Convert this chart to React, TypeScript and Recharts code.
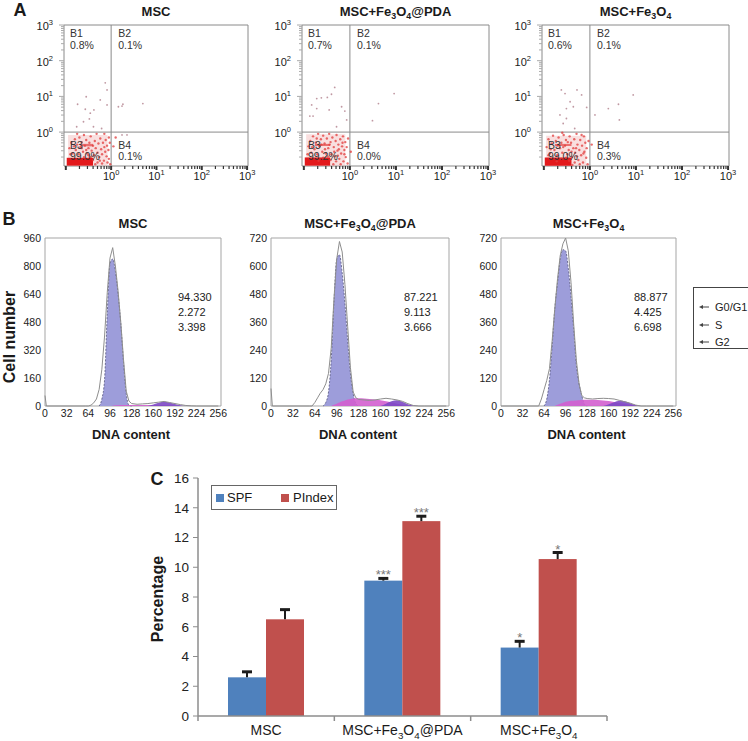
import React from 'react';
import {
  ScatterChart, Scatter, XAxis, YAxis, ReferenceArea, ReferenceLine,
  ComposedChart, Area, Line, BarChart, Bar,
} from 'recharts';

const FONT = '"Liberation Sans", Arial, Helvetica, sans-serif';
const _ = null;

// ---------- A: apoptosis flow plots (values are log10 decades) ----------
const groupNames = ['MSC', 'MSC+Fe3O4@PDA', 'MSC+Fe3O4'];
const quadNames = ['B1', 'B2', 'B3', 'B4'];
const quadPct = [
  ['0.8%', '0.1%', '99.0%', '0.1%'],
  ['0.7%', '0.1%', '99.2%', '0.0%'],
  ['0.6%', '0.1%', '99.0%', '0.3%'],
];

const a1Sparse = [[-0.13,1.38],[-0.09,1.18],[-0.55,0.99],[-0.74,0.78],[-0.24,0.9],[-0.46,0.53],[-0.38,0.62],[-0.61,0.29],[-0.39,0.15],[-0.76,0.15],[-0.21,0.1],[-0.09,0.76],[0.24,0.73],[0.26,0.78],[0.7,0.8],[0.16,0.71],[-0.57,0.64],[-0.48,0.37],[0.24,-0.08],[0.35,-0.08]];
const a2Sparse = [[-0.33,1.25],[-0.4,1.06],[-0.49,0.97],[-0.62,0.96],[-0.72,0.94],[-0.83,0.76],[-0.72,0.66],[-0.45,0.62],[-0.87,0.45],[-0.8,0.45],[-0.11,0.59],[-0.07,0.34],[-0.29,0.15],[0.62,0.8],[0.96,1.08],[0.49,0.32],[-0.18,0.71]];
const a3Sparse = [[-0.62,1.18],[-0.54,1.08],[-0.28,1.18],[-0.18,1.04],[-0.43,0.85],[-0.36,0.71],[-0.51,0.66],[-0.07,0.69],[-0.65,0.48],[-0.58,0.24],[-0.51,0.38],[-0.33,0.1],[0.11,0.48],[0.4,0.66],[0.62,0.78],[0.64,0.34],[0.94,1.04]];

const a1Cloud = [[-0.92,-0.45],[-0.88,-0.3],[-0.85,-0.6],[-0.8,-0.2],[-0.78,-0.5],[-0.75,-0.35],[-0.72,-0.62],[-0.7,-0.15],[-0.68,-0.42],[-0.65,-0.28],[-0.62,-0.55],[-0.6,-0.08],[-0.58,-0.38],[-0.55,-0.22],[-0.53,-0.6],[-0.5,-0.45],[-0.48,-0.3],[-0.45,-0.12],[-0.43,-0.52],[-0.4,-0.38],[-0.38,-0.65],[-0.36,-0.25],[-0.34,-0.45],[-0.32,-0.05],[-0.3,-0.58],[-0.28,-0.32],[-0.26,-0.7],[-0.24,-0.18],[-0.22,-0.48],[-0.2,-0.62],[-0.18,-0.3],[-0.16,-0.8],[-0.15,-0.42],[-0.13,-0.55],[-0.12,-0.22],[-0.1,-0.68],[-0.09,-0.38],[-0.08,-0.85],[-0.06,-0.5],[-0.05,-0.75],[-0.03,-0.3],[-0.02,-0.9],[-0.2,-0.88],[-0.3,-0.85],[-0.4,-0.78],[-0.35,-0.9],[-0.25,-0.8],[-0.5,-0.65],[-0.6,-0.7],[-0.7,-0.75],[-0.45,-0.7],[-0.55,-0.5],[-0.65,-0.45],[-0.82,-0.4],[-0.9,-0.62],[0.05,-0.4],[0.1,-0.15],[-0.15,-0.05],[-0.05,-0.15],[-0.75,-0.05]];
const a2Cloud = [[-0.9,-0.4],[-0.86,-0.25],[-0.84,-0.58],[-0.8,-0.12],[-0.77,-0.48],[-0.74,-0.3],[-0.71,-0.62],[-0.69,-0.05],[-0.66,-0.4],[-0.63,-0.2],[-0.6,-0.55],[-0.58,-0.1],[-0.55,-0.32],[-0.52,-0.6],[-0.5,-0.18],[-0.47,-0.45],[-0.45,-0.05],[-0.42,-0.28],[-0.4,-0.62],[-0.38,-0.15],[-0.35,-0.42],[-0.33,-0.68],[-0.31,-0.25],[-0.29,-0.08],[-0.27,-0.52],[-0.25,-0.35],[-0.23,-0.75],[-0.21,-0.2],[-0.19,-0.6],[-0.17,-0.4],[-0.15,-0.12],[-0.14,-0.82],[-0.12,-0.5],[-0.1,-0.28],[-0.09,-0.7],[-0.07,-0.42],[-0.05,-0.88],[-0.04,-0.18],[-0.2,-0.9],[-0.3,-0.82],[-0.42,-0.78],[-0.36,-0.9],[-0.26,-0.66],[-0.48,-0.68],[-0.58,-0.72],[-0.68,-0.8],[-0.62,-0.35],[-0.72,-0.18],[-0.82,-0.42],[-0.92,-0.62],[-0.12,-0.62],[-0.16,-0.3],[-0.24,-0.48],[-0.34,-0.55],[-0.44,-0.35],[-0.54,-0.48],[0.02,-0.55]];
const a3Cloud = [[-0.94,-0.42],[-0.9,-0.2],[-0.87,-0.6],[-0.83,-0.32],[-0.8,-0.1],[-0.77,-0.5],[-0.74,-0.25],[-0.71,-0.65],[-0.68,-0.15],[-0.65,-0.45],[-0.62,-0.3],[-0.6,-0.58],[-0.57,-0.08],[-0.54,-0.38],[-0.52,-0.22],[-0.49,-0.62],[-0.46,-0.5],[-0.44,-0.12],[-0.41,-0.3],[-0.39,-0.7],[-0.36,-0.45],[-0.34,-0.2],[-0.32,-0.58],[-0.29,-0.05],[-0.27,-0.35],[-0.25,-0.78],[-0.23,-0.5],[-0.21,-0.22],[-0.19,-0.65],[-0.17,-0.38],[-0.15,-0.85],[-0.13,-0.12],[-0.12,-0.55],[-0.1,-0.3],[-0.08,-0.72],[-0.07,-0.45],[-0.05,-0.9],[-0.03,-0.25],[-0.22,-0.9],[-0.33,-0.85],[-0.45,-0.8],[-0.38,-0.92],[-0.28,-0.68],[-0.52,-0.72],[-0.62,-0.75],[-0.72,-0.82],[-0.58,-0.42],[-0.7,-0.38],[-0.85,-0.48],[-0.9,-0.65],[-0.14,-0.6],[-0.18,-0.08],[-0.3,-0.45],[-0.4,-0.55],[-0.48,-0.28],[0.04,-0.35],[-0.6,-0.02]];

// event blocks [xFrom, xTo, yFrom, yTo]: faint haze, solid core, upper streak
const a1Dense = [[-0.95,-0.08,-0.94,-0.08],[-0.98,-0.4,-0.94,-0.72],[-0.68,-0.4,-0.4,-0.33]];
const a2Dense = [[-0.95,-0.1,-0.94,-0.06],[-0.98,-0.43,-0.94,-0.71],[-0.76,-0.43,-0.39,-0.33]];
const a3Dense = [[-0.95,-0.08,-0.94,-0.1],[-0.98,-0.4,-0.94,-0.71],[-0.76,-0.4,-0.39,-0.33]];

// ---------- B: cell cycle histograms ----------
const dnaChannel = [0, 2, 56, 60, 64, 68, 72, 76, 80, 84, 88, 92, 96, 100, 104, 108, 112, 116, 120, 124, 128, 136, 144, 152, 160, 168, 176, 184, 192, 200, 208, 216, 224, 256];
const b1G1 = [_, _, _, _, _, _, _, _, 0, 40, 150, 530, 815, 840, 770, 640, 470, 250, 70, 5, 0, _, _, _, _, _, _, _, _, _, _, _, _, _];
const b1S = [_, _, _, _, _, _, _, _, _, _, _, _, 0, 2, 4, 5, 6, 6, 6, 6, 6, 6, 6, 6, 6, 6, 5, 4, 2, 0, _, _, _, _];
const b1G2 = [_, _, _, _, _, _, _, _, _, _, _, _, _, _, _, _, _, _, _, _, _, _, _, 0, 8, 18, 24, 20, 12, 5, 1, 0, _, _];
const b1Raw = [60, 0, 0, 0, 0, 5, 18, 40, 95, 210, 400, 650, 845, 905, 800, 655, 475, 265, 85, 28, 14, 10, 12, 14, 18, 22, 26, 20, 14, 8, 3, 1, 0, 0];

const b2G1 = [_, _, _, _, _, _, _, 0, 15, 60, 200, 450, 630, 648, 570, 440, 280, 140, 54, 10, 0, _, _, _, _, _, _, _, _, _, _, _, _, _];
const b2S = [_, _, _, _, _, _, _, _, _, _, 0, 5, 10, 15, 20, 24, 28, 30, 32, 33, 33, 32, 30, 28, 25, 20, 15, 10, 5, 2, 0, _, _, _];
const b2G2 = [_, _, _, _, _, _, _, _, _, _, _, _, _, _, _, _, _, _, _, _, _, _, _, _, 0, 10, 20, 25, 18, 8, 2, 0, _, _];
const b2Raw = [75, 0, 0, 0, 15, 35, 55, 70, 95, 140, 250, 460, 630, 705, 660, 520, 340, 165, 60, 35, 28, 26, 24, 26, 30, 33, 30, 26, 20, 10, 2, 0, 0, 0];

const b3G1 = [_, _, _, _, 0, 30, 112, 260, 420, 530, 630, 670, 665, 590, 470, 330, 175, 95, 45, 8, 0, _, _, _, _, _, _, _, _, _, _, _, _, _];
const b3S = [_, _, _, _, _, _, _, _, 0, 5, 10, 14, 18, 20, 22, 23, 24, 25, 26, 27, 27, 27, 26, 24, 21, 17, 13, 9, 5, 2, 0, _, _, _];
const b3G2 = [_, _, _, _, _, _, _, _, _, _, _, _, _, _, _, _, _, _, _, _, _, _, _, 0, 8, 16, 22, 20, 12, 4, 0, _, _, _];
const b3Raw = [0, 0, 0, 30, 70, 110, 160, 280, 420, 545, 645, 695, 720, 665, 530, 350, 195, 95, 45, 35, 32, 30, 32, 33, 32, 30, 24, 18, 12, 4, 0, 0, 0, 0];

const dnaTicks = [0, 32, 64, 96, 128, 160, 192, 224, 256];
const b1Ticks = [0, 160, 320, 480, 640, 800, 960];
const b23Ticks = [0, 120, 240, 360, 480, 600, 720];
const cycleStats = [
  ['94.330', '2.272', '3.398'],
  ['87.221', '9.113', '3.666'],
  ['88.877', '4.425', '6.698'],
];
const cycleLegend = ['G0/G1', 'S', 'G2'];

// ---------- C: SPF / PIndex ----------
const spf = [2.6, 9.1, 4.6];
const spfErr = [0.37, 0.15, 0.42];
const pIndex = [6.5, 13.1, 10.55];
const pIndexErr = [0.65, 0.33, 0.44];
const spfSig = ['', '***', '*'];
const pIndexSig = ['', '***', '*'];
const pctTicks = [0, 2, 4, 6, 8, 10, 12, 14, 16];

// ---------- helpers ----------
type Box = { x0: number; x1: number; y0: number; y1: number };
type Mg = { top: number; right: number; bottom: number; left: number };
const frame = (b: Box, yw: number, xh: number, m: Mg) => ({
  style: { position: 'absolute' as const, left: b.x0 - yw - m.left, top: b.y0 - m.top },
  width: b.x1 - b.x0 + yw + m.left + m.right,
  height: b.y1 - b.y0 + xh + m.top + m.bottom,
  margin: m,
});

const chemParts = (s: string) => s.split(/(\d)/).filter(Boolean).map((t) => ({ t, sub: /^\d$/.test(t) }));

const ChemHtml = ({ s }: { s: string }) => (
  <>
    {chemParts(s).map((p, i) =>
      p.sub ? <span key={i} style={{ fontSize: '0.68em', position: 'relative', top: '0.35em' }}>{p.t}</span> : <span key={i}>{p.t}</span>
    )}
  </>
);

const chemSvg = (s: string, size: number) => {
  let prevSub = false;
  return chemParts(s).map((p, i) => {
    const dy = p.sub ? (prevSub ? 0 : size * 0.3) : prevSub ? -size * 0.3 : 0;
    prevSub = p.sub;
    return <tspan key={i} dy={dy} fontSize={p.sub ? size * 0.7 : size}>{p.t}</tspan>;
  });
};

const T = ({ x, y, size = 12, bold = false, align = 'center', rotate = 0, color = '#1a1a1a', children }: any) => (
  <div
    style={{
      position: 'absolute', left: x, top: y,
      transform: `translate(${align === 'center' ? '-50%' : align === 'right' ? '-100%' : '0'}, -50%) rotate(${rotate}deg)`,
      fontSize: size, fontWeight: bold ? 700 : 400, lineHeight: 1, whiteSpace: 'nowrap', color, fontFamily: FONT,
    }}
  >
    {children}
  </div>
);

// ---------- A plot ----------
const X_DOM: [number, number] = [-1.04, 3.02];
const Y_DOM: [number, number] = [-0.95, 3];
const logTicks = (lo: number, hi: number) => {
  const out: number[] = [];
  for (let d = -1; d < 3; d++) {
    out.push(d);
    [2, 3, 4, 5, 6, 7, 8, 9].forEach((k) => out.push(d + Math.log10(k)));
  }
  out.push(3);
  return out.filter((v) => v >= lo && v <= hi);
};
const isMajor = (v: number) => Math.abs(v - Math.round(v)) < 1e-6;

const LogTickX = ({ x, y, payload }: any) => {
  const v = payload.value;
  const major = isMajor(v);
  return (
    <g>
      <line x1={x} x2={x} y1={y} y2={y + (major ? 4 : 3)} stroke="#333" strokeWidth={major ? 2 : 1.2} />
      {major && v >= 0 && (
        <text x={x} y={y + 14} textAnchor="middle" fontSize={11} fill="#1a1a1a" fontFamily={FONT}>
          10<tspan dy={-5} fontSize={7.5}>{Math.round(v)}</tspan>
        </text>
      )}
    </g>
  );
};

const LogTickY = ({ x, y, payload }: any) => {
  const v = payload.value;
  const major = isMajor(v);
  return (
    <g>
      <line x1={x - (major ? 5 : 3)} x2={x} y1={y} y2={y} stroke="#aaa" strokeWidth={1} />
      {major && v >= 0 && (
        <text x={x - 11} y={y + 5} textAnchor="end" fontSize={11} fill="#1a1a1a" fontFamily={FONT}>
          10<tspan dy={-5} fontSize={7.5}>{Math.round(v)}</tspan>
        </text>
      )}
    </g>
  );
};

const dot = (color: string, r: number, op: number) => (p: any) => (
  <circle cx={p.cx} cy={p.cy} r={r} fill={color} fillOpacity={op} />
);

const toXY = (pts: number[][]) => pts.map(([x, y]) => ({ x, y }));
const denseFill = ['#f2b8b8', '#e3191c', '#e44a4a'];
const denseOp = [0.45, 1, 0.75];

const FlowPlot = ({ box, sparse, cloud, dense, pct, title }: any) => {
  const f = frame(box, 52, 22, { top: 10, right: 12, bottom: 2, left: 2 });
  const px = (v: number) => box.x0 + ((v - X_DOM[0]) / (X_DOM[1] - X_DOM[0])) * (box.x1 - box.x0);
  const py = (v: number) => box.y0 + ((Y_DOM[1] - v) / (Y_DOM[1] - Y_DOM[0])) * (box.y1 - box.y0);
  const dx = px(0);
  const dy = py(0);
  return (
    <>
      <div style={f.style}>
        <ScatterChart width={f.width} height={f.height} margin={f.margin}>
          <XAxis type="number" dataKey="x" domain={X_DOM} ticks={logTicks(X_DOM[0], X_DOM[1])} interval={0} allowDataOverflow
            height={22} tickSize={0} tickMargin={0} axisLine={false} tickLine={false} tick={(p: any) => <LogTickX {...p} />} />
          <YAxis type="number" dataKey="y" domain={Y_DOM} ticks={logTicks(Y_DOM[0], Y_DOM[1])} interval={0} allowDataOverflow
            width={52} tickSize={0} tickMargin={0} axisLine={false} tickLine={false} tick={(p: any) => <LogTickY {...p} />} />
          <ReferenceArea x1={X_DOM[0]} x2={X_DOM[1]} y1={Y_DOM[0]} y2={Y_DOM[1]} fill="none" stroke="#8a8a8a" strokeWidth={1} />
          {dense.map((d: number[], i: number) => (
            <ReferenceArea key={i} x1={d[0]} x2={d[1]} y1={d[2]} y2={d[3]} fill={denseFill[i]} fillOpacity={denseOp[i]} stroke="none" />
          ))}
          <Scatter data={toXY(cloud)} shape={dot('#e03b3b', 1.2, 0.75)} isAnimationActive={false} />
          <Scatter data={toXY(sparse)} shape={dot('#b98d98', 0.9, 0.9)} isAnimationActive={false} />
          <ReferenceLine x={0} stroke="#8a8a8a" strokeWidth={1} />
          <ReferenceLine y={0} stroke="#8a8a8a" strokeWidth={1} />
        </ScatterChart>
      </div>
      <T x={(box.x0 + box.x1) / 2} y={11} size={13} bold><ChemHtml s={title} /></T>
      <T x={box.x0 + 6} y={box.y0 + 8} size={10.5} align="left" color="#333">{quadNames[0]}</T>
      <T x={box.x0 + 6} y={box.y0 + 20} size={10.5} align="left" color="#333">{pct[0]}</T>
      <T x={dx + 7} y={box.y0 + 8} size={10.5} align="left" color="#333">{quadNames[1]}</T>
      <T x={dx + 7} y={box.y0 + 20} size={10.5} align="left" color="#333">{pct[1]}</T>
      <T x={box.x0 + 6} y={dy + 13} size={10.5} align="left" color="#333">{quadNames[2]}</T>
      <T x={box.x0 + 6} y={dy + 24} size={10.5} align="left" color="#333">{pct[2]}</T>
      <T x={dx + 7} y={dy + 13} size={10.5} align="left" color="#333">{quadNames[3]}</T>
      <T x={dx + 7} y={dy + 24} size={10.5} align="left" color="#333">{pct[3]}</T>
    </>
  );
};

// ---------- B plot ----------
const CyclePlot = ({ box, g1, s, g2, raw, yMax, yTicks, stats, title }: any) => {
  const f = frame(box, 36, 20, { top: 8, right: 10, bottom: 2, left: 2 });
  const rows = dnaChannel.map((ch, i) => ({ ch, g1: g1[i], s: s[i], g2: g2[i], raw: raw[i] }));
  const tickStyle = { fontSize: 10.5, fill: '#222', fontFamily: FONT };
  return (
    <>
      <div style={f.style}>
        <ComposedChart width={f.width} height={f.height} data={rows} margin={f.margin}>
          <XAxis type="number" dataKey="ch" domain={[0, 260]} ticks={dnaTicks} interval={0} height={20}
            tickSize={3} tickMargin={1} axisLine={false} tickLine={false} tick={tickStyle} />
          <YAxis type="number" domain={[0, yMax]} ticks={yTicks} interval={0} width={36}
            tickSize={2} tickMargin={2} axisLine={false} tickLine={false} tick={tickStyle} />
          <ReferenceArea x1={0} x2={260} y1={0} y2={yMax} fill="none" stroke="#a5a5a5" strokeWidth={1} />
          <Area dataKey="g1" type="monotone" fill="#9d9dda" fillOpacity={1} stroke="#56567e" strokeWidth={0.8}
            strokeDasharray="2 1.5" dot={false} activeDot={false} isAnimationActive={false} />
          <Area dataKey="s" type="monotone" fill="#d35fcf" fillOpacity={0.9} stroke="none" dot={false} activeDot={false} isAnimationActive={false} />
          <Area dataKey="g2" type="monotone" fill="#7c48c4" fillOpacity={0.9} stroke="none" dot={false} activeDot={false} isAnimationActive={false} />
          <Line dataKey="raw" type="linear" stroke="#8e8e8e" strokeWidth={1} dot={false} activeDot={false} isAnimationActive={false} />
        </ComposedChart>
      </div>
      <T x={(box.x0 + box.x1) / 2} y={223} size={13} bold><ChemHtml s={title} /></T>
      <T x={(box.x0 + box.x1) / 2 - 2} y={434} size={13} bold>DNA content</T>
      {stats.map((v: string, i: number) => (
        <T key={i} x={box.x0 + 133} y={297 + i * 14.8} size={11} align="left" color="#222">{v}</T>
      ))}
    </>
  );
};

// ---------- C bars ----------
const barRows = groupNames.map((name, i) => ({
  name, spf: spf[i], spfErr: spfErr[i], spfSig: spfSig[i],
  pIndex: pIndex[i], pIndexErr: pIndexErr[i], pIndexSig: pIndexSig[i],
}));

const barWithErr = (key: string) => (p: any) => {
  const { x, y, width, height, fill, payload } = p;
  const v = payload[key];
  const unit = v ? height / v : 0;
  const top = y - payload[key + 'Err'] * unit;
  const cx = x + width / 2;
  const sig = payload[key + 'Sig'];
  return (
    <g>
      <rect x={x} y={y} width={width} height={height} fill={fill} />
      <line x1={cx} x2={cx} y1={y} y2={top} stroke="#1c1c1c" strokeWidth={2} />
      <line x1={cx - 5} x2={cx + 5} y1={top} y2={top} stroke="#1c1c1c" strokeWidth={3} />
      {sig && (
        <text x={cx} y={top + 1} textAnchor="middle" fontSize={13} fill="#777" fontFamily={FONT}>{sig}</text>
      )}
    </g>
  );
};

const CatTick = ({ x, y, payload }: any) => {
  const half = payload && payload.offset ? payload.offset : 68.2;
  return (
    <g>
      {payload.index === 0 && <line x1={x - half} x2={x - half} y1={y} y2={y + 5} stroke="#8c8c8c" strokeWidth={1.5} />}
      <line x1={x + half} x2={x + half} y1={y} y2={y + 5} stroke="#8c8c8c" strokeWidth={1.5} />
      <text x={x} y={y + 19} textAnchor="middle" fontSize={14} fill="#1a1a1a" fontFamily={FONT}>{chemSvg(payload.value, 14)}</text>
    </g>
  );
};

const flowBoxes: Box[] = [
  { x0: 64, x1: 248, y0: 25, y1: 166 },
  { x0: 302, x1: 489, y0: 25, y1: 166 },
  { x0: 542, x1: 729, y0: 25, y1: 166 },
];
const cycleBoxes: Box[] = [
  { x0: 45, x1: 221, y0: 238, y1: 406 },
  { x0: 271, x1: 449, y0: 238, y1: 406 },
  { x0: 501, x1: 676, y0: 238, y1: 406 },
];
const barBox: Box = { x0: 198, x1: 607, y0: 478, y1: 716 };

export default function App() {
  const fc = frame(barBox, 40, 30, { top: 8, right: 4, bottom: 2, left: 2 });
  return (
    <div style={{ position: 'absolute', left: 0, top: 0, width: 748, height: 741, overflow: 'hidden', background: '#fff', fontFamily: FONT, color: '#1a1a1a' }}>
      <T x={20} y={10} size={18} bold>A</T>
      <FlowPlot box={flowBoxes[0]} sparse={a1Sparse} cloud={a1Cloud} dense={a1Dense} pct={quadPct[0]} title={groupNames[0]} />
      <FlowPlot box={flowBoxes[1]} sparse={a2Sparse} cloud={a2Cloud} dense={a2Dense} pct={quadPct[1]} title={groupNames[1]} />
      <FlowPlot box={flowBoxes[2]} sparse={a3Sparse} cloud={a3Cloud} dense={a3Dense} pct={quadPct[2]} title={groupNames[2]} />

      <T x={9} y={219} size={18} bold>B</T>
      <T x={10} y={337} size={16} bold rotate={-90}>Cell number</T>
      <CyclePlot box={cycleBoxes[0]} g1={b1G1} s={b1S} g2={b1G2} raw={b1Raw} yMax={960} yTicks={b1Ticks} stats={cycleStats[0]} title={groupNames[0]} />
      <CyclePlot box={cycleBoxes[1]} g1={b2G1} s={b2S} g2={b2G2} raw={b2Raw} yMax={720} yTicks={b23Ticks} stats={cycleStats[1]} title={groupNames[1]} />
      <CyclePlot box={cycleBoxes[2]} g1={b3G1} s={b3S} g2={b3G2} raw={b3Raw} yMax={720} yTicks={b23Ticks} stats={cycleStats[2]} title={groupNames[2]} />
      <div style={{ position: 'absolute', left: 693, top: 287, width: 58, height: 62, border: '1px solid #444', boxSizing: 'border-box', background: '#fff' }}>
        {cycleLegend.map((name, i) => (
          <div key={name} style={{ position: 'absolute', left: 5, top: 12 + i * 17.5, height: 14, display: 'flex', alignItems: 'center', fontSize: 11, fontFamily: FONT, color: '#222' }}>
            <svg width={10} height={6} style={{ marginRight: 6 }}>
              <line x1={2} x2={10} y1={3} y2={3} stroke="#444" strokeWidth={1} />
              <polygon points="0,3 4,1 4,5" fill="#444" />
            </svg>
            {name}
          </div>
        ))}
      </div>

      <T x={157} y={479} size={18} bold>C</T>
      <T x={158} y={599} size={16} bold rotate={-90}>Percentage</T>
      <div style={fc.style}>
        <BarChart width={fc.width} height={fc.height} data={barRows} barGap={0} margin={fc.margin}>
          <XAxis dataKey="name" interval={0} height={30} tickSize={0} tickMargin={0} tickLine={false}
            axisLine={{ stroke: '#8c8c8c', strokeWidth: 1.5 }} tick={(p: any) => <CatTick {...p} />} />
          <YAxis type="number" domain={[0, 16]} ticks={pctTicks} interval={0} width={40} tickSize={5} tickMargin={4}
            axisLine={{ stroke: '#8c8c8c', strokeWidth: 1.5 }} tickLine={{ stroke: '#8c8c8c' }}
            tick={{ fontSize: 13.5, fill: '#222', fontFamily: FONT }} />
          <Bar dataKey="spf" fill="#4f81bd" barSize={38} shape={barWithErr('spf')} isAnimationActive={false} />
          <Bar dataKey="pIndex" fill="#c0504d" barSize={38} shape={barWithErr('pIndex')} isAnimationActive={false} />
        </BarChart>
      </div>
      <div style={{ position: 'absolute', left: 211, top: 485, width: 126, height: 25, border: '1px solid #666', boxSizing: 'border-box', background: '#fff', fontFamily: FONT, fontSize: 13 }}>
        <span style={{ position: 'absolute', left: 4, top: 8, width: 8, height: 8, background: '#4f81bd' }} />
        <span style={{ position: 'absolute', left: 15, top: 4, lineHeight: '15px' }}>SPF</span>
        <span style={{ position: 'absolute', left: 69, top: 8, width: 8, height: 8, background: '#c0504d' }} />
        <span style={{ position: 'absolute', left: 81, top: 4, lineHeight: '15px' }}>PIndex</span>
      </div>
    </div>
  );
}
